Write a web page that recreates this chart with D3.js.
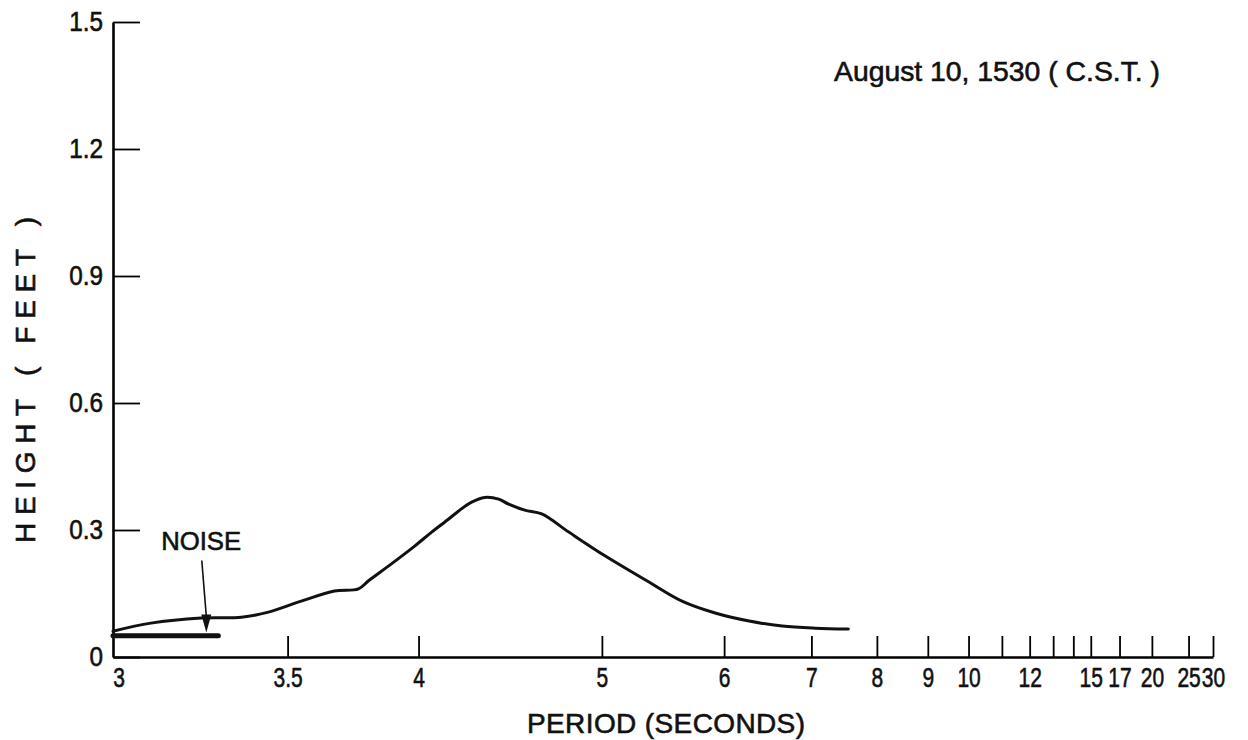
<!DOCTYPE html>
<html>
<head>
<meta charset="utf-8">
<script src="https://cdn.jsdelivr.net/npm/d3@7"></script>
<style>
  body { margin: 0; background: #fff; }
  #chart { width: 1248px; height: 740px; }
  text { font-family: "Liberation Sans", Arial, sans-serif; fill: #111; stroke: #111; stroke-width: 0.6px; }
</style>
</head>
<body>
<div id="chart"></div>
<script>
// wave spectrum
const periods = [3.0, 3.096, 3.233, 3.352, 3.437, 3.546, 3.664, 3.754, 3.793, 3.885, 3.983, 4.058, 4.136, 4.183, 4.246, 4.311, 4.383, 4.436, 4.524, 4.621, 4.784, 5.021, 5.343, 5.613, 5.913, 6.256, 6.630, 7.052, 7.531];
const heights = [0.061, 0.080, 0.092, 0.094, 0.106, 0.132, 0.156, 0.161, 0.180, 0.220, 0.262, 0.295, 0.326, 0.345, 0.366, 0.377, 0.373, 0.361, 0.347, 0.338, 0.295, 0.239, 0.177, 0.132, 0.104, 0.085, 0.073, 0.068, 0.066];

// noise level bar
const noisePeriods = [3.0, 3.283];
const noiseHeight = 0.05;

// axis ticks
const labelledTicks = [3, 3.5, 4, 5, 6, 7, 8, 9, 10, 12, 15, 17, 20, 25, 30];
const minorTicks = [11, 13, 14];
const yTicks = [0, 0.3, 0.6, 0.9, 1.2, 1.5];

const width = 1248;
const height = 740;
const margin = { top: 22, left: 113, right: 35, bottom: 83 };

const svg = d3.select("#chart")
    .append("svg")
    .attr("width", width)
    .attr("height", height);

// x axis is linear in frequency (1 / period)
const x = d3.scaleLinear()
    .domain([1 / 3, 1 / 30])
    .range([margin.left, width - margin.right]);
const xp = p => x(1 / p);

const y = d3.scaleLinear()
    .domain([0, 1.5])
    .range([height - margin.bottom, margin.top]);

const allTicks = labelledTicks.concat(minorTicks).filter(p => p !== 3);

const xAxis = svg.append("g")
    .attr("transform", `translate(0,${height - margin.bottom})`)
    .call(d3.axisBottom(x)
        .tickValues(allTicks.map(p => 1 / p))
        .tickSize(-21)
        .tickSizeOuter(0)
        .tickPadding(10)
        .tickFormat(d => {
            const p = Math.round(1 / d * 10) / 10;
            return labelledTicks.includes(p) ? String(p) : "";
        }));

xAxis.select(".domain").attr("stroke-width", 2.6);
xAxis.selectAll(".tick line").attr("stroke-width", 1.8);
// the lettering on the original is tall and narrow
xAxis.selectAll(".tick text")
    .style("font-size", "28px")
    .attr("fill", "#111")
    .attr("transform", "scale(0.75,1)");

// the "3" label sits under the y axis
xAxis.append("g")
    .attr("transform", `translate(${x(1 / 3) + 6},0)`)
    .append("text")
    .attr("y", 10)
    .attr("dy", "0.71em")
    .attr("text-anchor", "middle")
    .attr("transform", "scale(0.75,1)")
    .style("font-size", "28px")
    .text("3");

const yAxis = svg.append("g")
    .attr("transform", `translate(${margin.left},0)`)
    .call(d3.axisLeft(y)
        .tickValues(yTicks)
        .tickSize(-27)
        .tickSizeOuter(0)
        .tickPadding(10)
        .tickFormat(d => d === 0 ? "0" : d3.format(".1f")(d)));

yAxis.select(".domain").attr("stroke-width", 2.6);
yAxis.selectAll(".tick line").attr("stroke-width", 1.8);
yAxis.selectAll(".tick text")
    .style("font-size", "27px")
    .attr("fill", "#111")
    .attr("transform", "translate(-10,0) scale(0.9,1) translate(10,0)");

// axis titles
svg.append("text")
    .attr("x", 527)
    .attr("y", 733)
    .attr("textLength", 278)
    .attr("lengthAdjust", "spacing")
    .style("font-size", "28px")
    .text("PERIOD  (SECONDS)");

svg.append("text")
    .attr("transform", "translate(35,543) rotate(-90)")
    .attr("textLength", 326)
    .attr("lengthAdjust", "spacing")
    .style("font-size", "28px")
    .text("HEIGHT  ( FEET )");

svg.append("text")
    .attr("x", 834)
    .attr("y", 81)
    .attr("textLength", 326)
    .attr("lengthAdjust", "spacingAndGlyphs")
    .style("font-size", "28px")
    .text("August 10, 1530 ( C.S.T. )");

// spectrum curve
const line = d3.line()
    .x((d, i) => xp(periods[i]))
    .y(d => y(d))
    .curve(d3.curveCatmullRom.alpha(0.5));

svg.append("path")
    .datum(heights)
    .attr("fill", "none")
    .attr("stroke", "#111")
    .attr("stroke-width", 3)
    .attr("stroke-linecap", "round")
    .attr("d", line);

// noise bar
svg.append("line")
    .attr("x1", xp(noisePeriods[0]))
    .attr("x2", xp(noisePeriods[1]))
    .attr("y1", y(noiseHeight))
    .attr("y2", y(noiseHeight))
    .attr("stroke", "#111")
    .attr("stroke-width", 5)
    .attr("stroke-linecap", "round");

// noise label and arrow
const labelAt = { p: 3.123, h: 0.253 };
const arrowFrom = { p: 3.235, h: 0.228 };
const arrowTo = { p: 3.248, h: noiseHeight + 0.008 };
const headLen = 18;

svg.append("text")
    .attr("x", xp(labelAt.p))
    .attr("y", y(labelAt.h))
    .attr("textLength", 80)
    .attr("lengthAdjust", "spacingAndGlyphs")
    .style("font-size", "26px")
    .text("NOISE");

svg.append("line")
    .attr("x1", xp(arrowFrom.p))
    .attr("y1", y(arrowFrom.h))
    .attr("x2", xp(arrowTo.p))
    .attr("y2", y(arrowTo.h) - headLen + 2)
    .attr("stroke", "#111")
    .attr("stroke-width", 1.6);

const tipX = xp(arrowTo.p);
const tipY = y(arrowTo.h);
svg.append("path")
    .attr("d", `M${tipX - 5},${tipY - headLen}L${tipX + 5},${tipY - headLen}L${tipX},${tipY}Z`)
    .attr("fill", "#111");
</script>
</body>
</html>
